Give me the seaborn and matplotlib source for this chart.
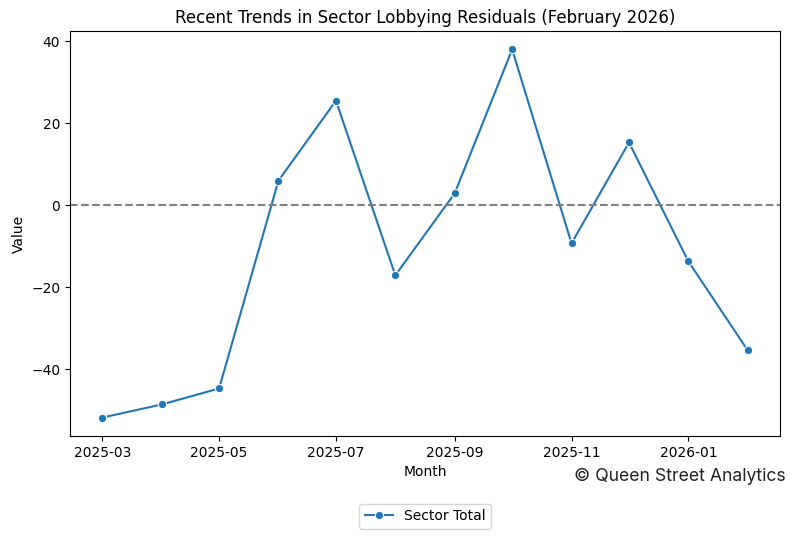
import matplotlib
matplotlib.use("Agg")
import matplotlib.pyplot as plt
import seaborn as sns
import pandas as pd

months = ["2025-03", "2025-04", "2025-05", "2025-06", "2025-07", "2025-08",
          "2025-09", "2025-10", "2025-11", "2025-12", "2026-01", "2026-02"]
values = [-51.8, -48.6, -44.7, 6.0, 25.5, -17.1, 2.9, 38.0, -9.3, 15.3, -13.7, -35.4]
series_name = "Sector Total"

df = pd.DataFrame({"Month": pd.to_datetime(months), "Value": values, "Series": series_name})

fig = plt.figure(figsize=(7.96, 5.39), dpi=100)
ax = fig.add_axes([70/796, 1-436/539, 710/796, 405/539])

sns.lineplot(data=df, x="Month", y="Value", hue="Series", marker="o", ax=ax)
ax.axhline(0, color="gray", linestyle="--", linewidth=1.5)

ax.set_title("Recent Trends in Sector Lobbying Residuals (February 2026)")
ax.set_xlabel("Month")
ax.set_ylabel("Value")
ax.legend(loc="upper center", bbox_to_anchor=(0.5, -0.15), ncol=1)

fig.text(786/796, 1-476/539, "© Queen Street Analytics", ha="right", va="center",
         fontsize=12.7, family=["Inter", "DejaVu Sans"], color="#222222")

fig.savefig("out.png", dpi=100)
